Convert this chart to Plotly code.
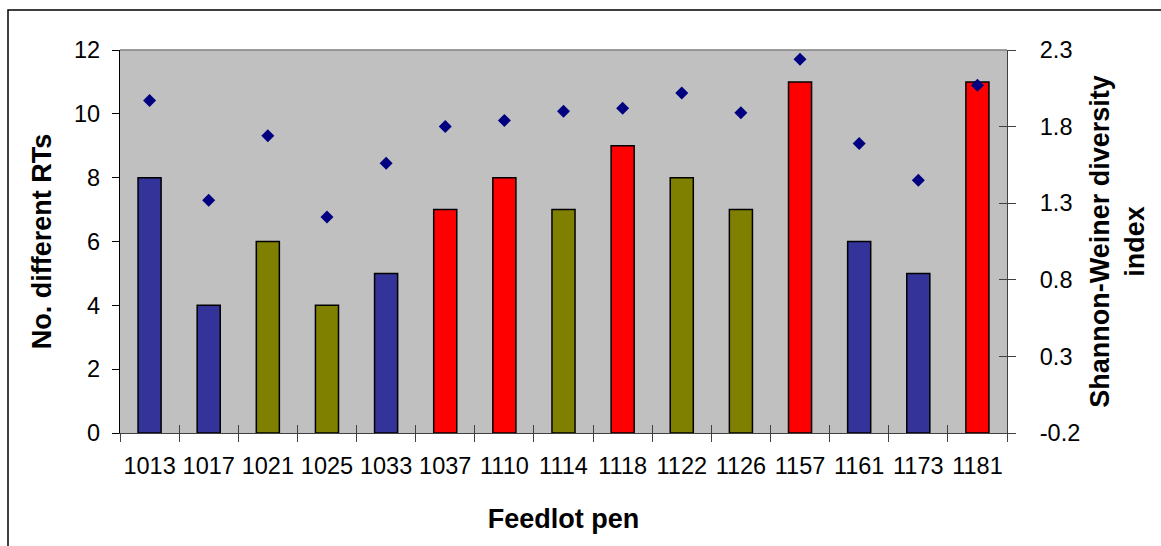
import plotly.graph_objects as go

# ---- data ----
pens = ["1013", "1017", "1021", "1025", "1033", "1037", "1110", "1114",
        "1118", "1122", "1126", "1157", "1161", "1173", "1181"]
rt_counts = [8, 4, 6, 4, 5, 7, 8, 7, 9, 8, 7, 11, 6, 5, 11]
diversity = [1.97, 1.32, 1.74, 1.21, 1.56, 1.80, 1.84, 1.90,
             1.92, 2.02, 1.89, 2.24, 1.69, 1.45, 2.07]
pen_group = ["A", "A", "B", "B", "A", "C", "C", "B",
             "C", "B", "B", "C", "A", "A", "C"]

group_colors = {"A": "#333399", "B": "#808000", "C": "#FF0000"}

y_ticks = [0, 2, 4, 6, 8, 10, 12]
y2_ticks = [-0.2, 0.3, 0.8, 1.3, 1.8, 2.3]

FONT = "Liberation Sans, Arial, sans-serif"

fig = go.Figure()
fig.add_trace(go.Bar(
    x=pens, y=rt_counts,
    marker=dict(color=[group_colors[g] for g in pen_group],
                line=dict(color="black", width=1.5)),
    width=0.39, showlegend=False, yaxis="y",
))
fig.add_trace(go.Scatter(
    x=pens, y=diversity, mode="markers", yaxis="y2",
    marker=dict(symbol="diamond", size=10, color="#000080"),
    showlegend=False,
))
# invisible carrier trace for the inner (cross) tick marks
fig.add_trace(go.Scatter(
    x=pens, y=diversity, mode="markers", xaxis="x2", yaxis="y3",
    marker=dict(opacity=0), showlegend=False, hoverinfo="skip",
))

L, R, T, B = 120, 154, 50, 113
W, H = 1161, 546
pw, ph = W - L - R, H - T - B

fig.update_layout(
    width=W, height=H,
    margin=dict(l=L, r=R, t=T, b=B, pad=0),
    paper_bgcolor="white",
    plot_bgcolor="#C0C0C0",
    font=dict(family=FONT, size=23.5, color="black"),
    xaxis=dict(
        type="category", tickson="boundaries", ticks="outside", ticklen=8,
        tickcolor="#404040", tickwidth=1.2, tickangle=0,
        showline=True, linecolor="#404040", linewidth=1.2,
        showgrid=False, zeroline=False, ticklabelstandoff=12,
        title=dict(text="<b>Feedlot pen</b>", font=dict(size=27), standoff=30),
        automargin=False, range=[-0.5, len(pens) - 0.5],
    ),
    xaxis2=dict(
        type="category", overlaying="x", matches="x", side="bottom",
        tickson="boundaries", ticks="inside", ticklen=8,
        tickcolor="#404040", tickwidth=1.2, showticklabels=False,
        showline=False, showgrid=False, zeroline=False, automargin=False,
    ),
    yaxis=dict(
        range=[0, 12], tickvals=y_ticks, ticks="outside", ticklen=7,
        tickcolor="black", showline=True, linecolor="black", linewidth=1.2,
        showgrid=False, zeroline=False, ticklabelstandoff=7,
        title=dict(text="<b>No. different RTs</b>", font=dict(size=27), standoff=14),
        automargin=False,
    ),
    yaxis2=dict(
        overlaying="y", side="right", range=[-0.2, 2.3], tickvals=y2_ticks,
        ticktext=[f"{v:.1f}" for v in y2_ticks],
        ticks="outside", ticklen=8, tickcolor="#404040",
        showline=True, linecolor="#404040", linewidth=1.2,
        showgrid=False, zeroline=False, ticklabelstandoff=19,
        title=dict(text="<b>Shannon-Weiner diversity<br>index</b>",
                   font=dict(size=27), standoff=10),
        automargin=False,
    ),
    yaxis3=dict(
        overlaying="y", side="right", range=[-0.2, 2.3], tickvals=y2_ticks,
        ticks="inside", ticklen=8, tickcolor="#404040", showticklabels=False,
        showline=False, showgrid=False, zeroline=False, automargin=False,
    ),
    shapes=[
        # plot-area top border
        dict(type="line", xref="paper", yref="paper", x0=0, x1=1, y0=1, y1=1,
             line=dict(color="#808080", width=1.5)),
        # chart-area border
        dict(type="rect", xref="paper", yref="paper",
             x0=(8 - L) / pw, x1=(W + 5 - L) / pw,
             y0=-(H + 5 - (T + ph)) / ph, y1=1 + (T - 10) / ph,
             line=dict(color="black", width=1.5), fillcolor="rgba(0,0,0,0)"),
    ],
)

fig.write_html("out.html")
